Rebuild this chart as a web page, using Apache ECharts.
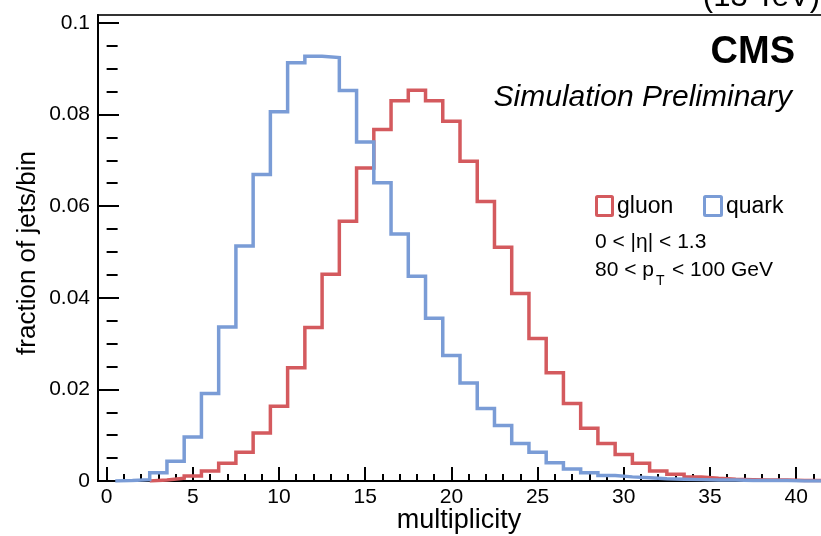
<!DOCTYPE html>
<html>
<head>
<meta charset="utf-8">
<title>multiplicity</title>
<script src="https://cdn.jsdelivr.net/npm/echarts@6/dist/echarts.min.js"></script>
<style>
  html, body { margin: 0; padding: 0; background: #fff; }
  #chart { width: 821px; height: 536px; }
</style>
</head>
<body>
<div id="chart"></div>
<script>
// Bin centres (unit-width bins, edges at n +/- 0.5)
const binCenters = [1, 2, 3, 4, 5, 6, 7, 8, 9, 10, 11, 12, 13, 14, 15, 16, 17, 18, 19, 20,
                    21, 22, 23, 24, 25, 26, 27, 28, 29, 30, 31, 32, 33, 34, 35, 36, 37, 38, 39, 40, 41];

// Fraction of jets per bin, gluon jets (null = bin not drawn)
const gluon = [null, null, 0.0002, 0.0006, 0.0011, 0.0022, 0.0039, 0.0063, 0.0105, 0.0163,
               0.0247, 0.0335, 0.0451, 0.0567, 0.0683, 0.0767, 0.0830, 0.0853, 0.0830, 0.0785,
               0.0698, 0.0610, 0.0510, 0.0409, 0.0311, 0.0236, 0.0169, 0.0115, 0.0082, 0.0058,
               0.0039, 0.0022, 0.0015, 0.0009, 0.0006, 0.0004, 0.0003, 0.0002, 0.0002, 0.0001, 0.0001];

// Fraction of jets per bin, quark jets
const quark = [0.0001, 0.0003, 0.0018, 0.0043, 0.0096, 0.0191, 0.0336, 0.0513, 0.0669, 0.0806,
               0.0913, 0.0927, 0.0924, 0.0852, 0.0740, 0.0651, 0.0539, 0.0447, 0.0355, 0.0274,
               0.0214, 0.0158, 0.0121, 0.0082, 0.0063, 0.0040, 0.0026, 0.0018, 0.0012, 0.0009,
               0.0007, 0.0005, 0.0004, 0.0003, 0.0002, 0.0002, 0.0001, 0.0001, 0.0001, 0.0000, 0.0000];

// Axis ticks
const xMajorTicks = [0, 5, 10, 15, 20, 25, 30, 35, 40];
const xMinorTicks = [1, 2, 3, 4, 6, 7, 8, 9, 11, 12, 13, 14, 16, 17, 18, 19, 21, 22, 23, 24,
                     26, 27, 28, 29, 31, 32, 33, 34, 36, 37, 38, 39, 41];
const yMajorTicks = [0, 0.02, 0.04, 0.06, 0.08, 0.1];
const yMinorTicks = [0.005, 0.01, 0.015, 0.025, 0.03, 0.035, 0.045, 0.05, 0.055,
                     0.065, 0.07, 0.075, 0.085, 0.09, 0.095];

const RED = '#d45a5e';
const BLUE = '#7a9cd6';
const FONT = '"Liberation Sans", Arial, Helvetica, sans-serif';

// Turn per-bin values into a step outline (bin edges at centre +/- 0.5)
function stepOutline(centers, values) {
  const pts = [];
  let started = false;
  let lastHi = null;
  for (let i = 0; i < centers.length; i++) {
    const v = values[i];
    if (v === null) continue;
    const lo = centers[i] - 0.5, hi = centers[i] + 0.5;
    if (!started) { pts.push([lo, 0]); started = true; }
    pts.push([lo, v]);
    pts.push([hi, v]);
    lastHi = hi;
  }
  if (lastHi !== null) pts.push([lastHi, 0]);
  return pts;
}

const chart = echarts.init(document.getElementById('chart'), null, { renderer: 'canvas' });

const xMin = -0.5, xMax = 41.5;
const yMin = 0, yMax = 0.1017;

chart.setOption({
  animation: false,
  backgroundColor: '#fff',
  grid: {
    left: 98, top: 15, width: 724, height: 466,
    containLabel: false, outerBoundsMode: 'none',
    show: true, borderColor: '#333', borderWidth: 2, backgroundColor: 'transparent'
  },
  xAxis: [
    {
      type: 'value', min: xMin, max: xMax, position: 'bottom',
      splitLine: { show: false },
      axisLine: { show: true, onZero: false, lineStyle: { color: '#000', width: 2 } },
      axisTick: { show: true, inside: true, length: 14, customValues: xMajorTicks,
                  lineStyle: { color: '#000', width: 2 } },
      axisLabel: { show: true, customValues: xMajorTicks, margin: 6,
                   fontFamily: FONT, fontSize: 21, color: '#000' }
    },
    {
      type: 'value', min: xMin, max: xMax, position: 'bottom',
      splitLine: { show: false },
      axisLine: { show: false },
      axisTick: { show: true, inside: true, length: 7, customValues: xMinorTicks,
                  lineStyle: { color: '#000', width: 2 } },
      axisLabel: { show: false }
    }
  ],
  yAxis: [
    {
      type: 'value', min: yMin, max: yMax, position: 'left',
      splitLine: { show: false },
      axisLine: { show: true, onZero: false, lineStyle: { color: '#000', width: 2 } },
      axisTick: { show: true, inside: true, length: 21, customValues: yMajorTicks,
                  lineStyle: { color: '#000', width: 2 } },
      axisLabel: { show: true, customValues: yMajorTicks, margin: 8,
                   fontFamily: FONT, fontSize: 21, color: '#000',
                   formatter: function (v) { return String(+v.toFixed(3)); } }
    },
    {
      type: 'value', min: yMin, max: yMax, position: 'left',
      splitLine: { show: false },
      axisLine: { show: false },
      axisTick: { show: true, inside: true, length: 11, customValues: yMinorTicks,
                  lineStyle: { color: '#000', width: 2 } },
      axisLabel: { show: false }
    }
  ],
  series: [
    {
      name: 'gluon', type: 'line', xAxisIndex: 0, yAxisIndex: 0,
      data: stepOutline(binCenters, gluon),
      showSymbol: false, symbol: 'none', clip: true,
      lineStyle: { color: RED, width: 3.5, join: 'miter' }
    },
    {
      name: 'quark', type: 'line', xAxisIndex: 0, yAxisIndex: 0,
      data: stepOutline(binCenters, quark),
      showSymbol: false, symbol: 'none', clip: true,
      lineStyle: { color: BLUE, width: 3.5, join: 'miter' }
    }
  ],
  graphic: [
    // axis titles
    { type: 'text', x: 459, y: 521, silent: true,
      style: { text: 'multiplicity', font: '27px ' + FONT, fill: '#000',
               textAlign: 'center', textVerticalAlign: 'middle' } },
    { type: 'text', x: 28, y: 253, rotation: Math.PI / 2, silent: true,
      style: { text: 'fraction of jets/bin', font: '26px ' + FONT, fill: '#000',
               textAlign: 'center', textVerticalAlign: 'middle' } },
    // header texts
    { type: 'text', right: 1, top: -18, silent: true,
      style: { text: '(13 TeV)', font: '31px ' + FONT, fill: '#000' } },
    { type: 'text', x: 795, y: 53, silent: true,
      style: { text: 'CMS', font: 'bold 38px ' + FONT, fill: '#000',
               textAlign: 'right', textVerticalAlign: 'middle' } },
    { type: 'text', x: 792, y: 98, silent: true,
      style: { text: 'Simulation Preliminary', font: 'italic 30px ' + FONT, fill: '#000',
               textAlign: 'right', textVerticalAlign: 'middle' } },
    // legend
    { type: 'rect', silent: true,
      shape: { x: 596.5, y: 196.5, width: 16, height: 19, r: 1 },
      style: { fill: 'none', stroke: RED, lineWidth: 3 } },
    { type: 'text', x: 617, y: 207, silent: true,
      style: { text: 'gluon', font: '23px ' + FONT, fill: '#000',
               textAlign: 'left', textVerticalAlign: 'middle' } },
    { type: 'rect', silent: true,
      shape: { x: 704.5, y: 196.5, width: 17, height: 19, r: 1 },
      style: { fill: 'none', stroke: BLUE, lineWidth: 3 } },
    { type: 'text', x: 726, y: 207, silent: true,
      style: { text: 'quark', font: '23px ' + FONT, fill: '#000',
               textAlign: 'left', textVerticalAlign: 'middle' } },
    // selection cuts
    { type: 'text', x: 595, y: 242, silent: true,
      style: { text: '0 < |\u03b7| < 1.3', font: '21px ' + FONT, fill: '#000',
               textAlign: 'left', textVerticalAlign: 'middle' } },
    { type: 'text', x: 595, y: 270, silent: true,
      style: { text: '80 < p', font: '21px ' + FONT, fill: '#000',
               textAlign: 'left', textVerticalAlign: 'middle' } },
    { type: 'text', x: 656, y: 281, silent: true,
      style: { text: 'T', font: '14px ' + FONT, fill: '#000',
               textAlign: 'left', textVerticalAlign: 'middle' } },
    { type: 'text', x: 672, y: 270, silent: true,
      style: { text: '< 100 GeV', font: '21px ' + FONT, fill: '#000',
               textAlign: 'left', textVerticalAlign: 'middle' } }
  ]
});
</script>
</body>
</html>
